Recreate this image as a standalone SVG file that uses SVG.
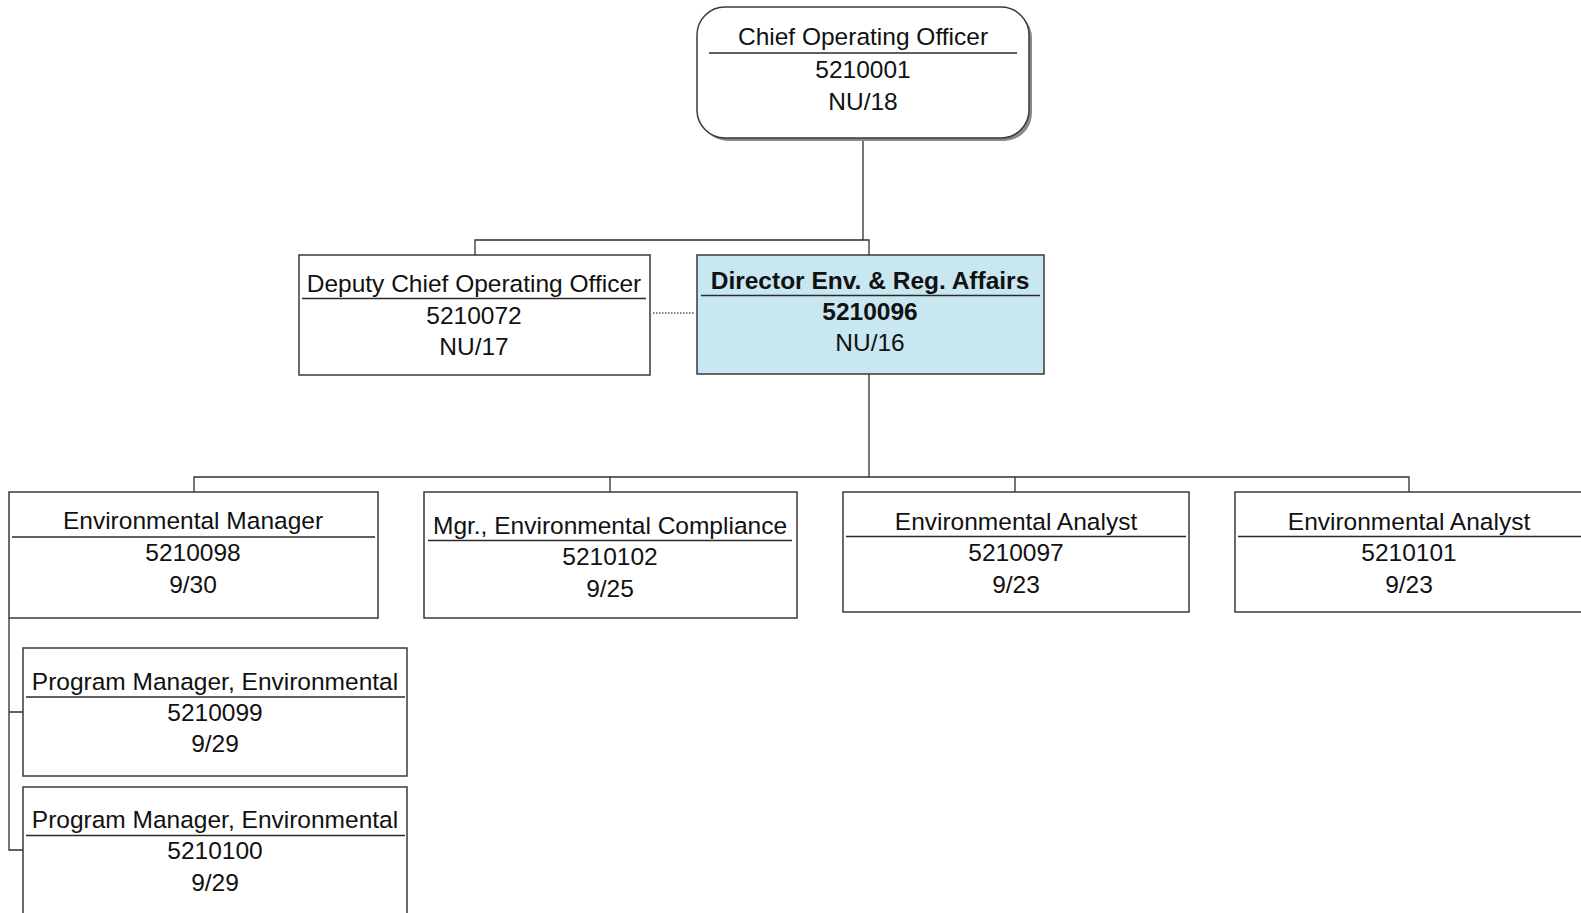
<svg xmlns="http://www.w3.org/2000/svg" width="1581" height="913" viewBox="0 0 1581 913">
  <style>
    .box { fill: #ffffff; stroke: #3a3a3a; stroke-width: 1.5; }
    .hl { fill: #c9e7f0; stroke: #3a3a3a; stroke-width: 1.5; }
    .rule { stroke: #2a2a2a; stroke-width: 1.3; }
    .wire { fill: none; stroke: #2f2f2f; stroke-width: 1.3; }
    .dot { fill: none; stroke: #555555; stroke-width: 1.3; stroke-dasharray: 1.5 1.5; }
    text { font-family: "Liberation Sans", Arial, sans-serif; font-size: 24.5px; fill: #111111; text-anchor: middle; }
    .b { font-weight: bold; }
  </style>

  <g id="connectors">
    <path class="wire" d="M863 139 V240 M475 255 V240 H869 V255"/>
    <path class="dot" d="M653 313 H694"/>
    <path class="wire" d="M869 374 V477 M194 492 V477 H1409 V492 M610 477 V492 M1015 477 V492"/>
    <path class="wire" d="M9 618 V850 H23 M9 712 H23"/>
  </g>

  <g id="coo">
    <rect x="700" y="10" width="332" height="131" rx="28" ry="28" fill="#8a8a8a"/>
    <rect class="box" x="697" y="7" width="332" height="131" rx="28" ry="28"/>
    <text x="863" y="45">Chief Operating Officer</text>
    <line class="rule" x1="709" y1="53" x2="1017" y2="53"/>
    <text x="863" y="78">5210001</text>
    <text x="863" y="110">NU/18</text>
  </g>

  <g id="deputy-coo">
    <rect class="box" x="299" y="255" width="351" height="120"/>
    <text x="474" y="292">Deputy Chief Operating Officer</text>
    <line class="rule" x1="302" y1="298.5" x2="646" y2="298.5"/>
    <text x="474" y="324">5210072</text>
    <text x="474" y="355">NU/17</text>
  </g>

  <g id="director">
    <rect class="hl" x="697" y="255" width="347" height="119"/>
    <text class="b" x="870" y="289">Director Env. &amp; Reg. Affairs</text>
    <line class="rule" x1="701" y1="295.5" x2="1040" y2="295.5"/>
    <text class="b" x="870" y="320">5210096</text>
    <text x="870" y="351">NU/16</text>
  </g>

  <g id="env-manager">
    <rect class="box" x="9" y="492" width="369" height="126"/>
    <text x="193" y="529">Environmental Manager</text>
    <line class="rule" x1="12" y1="537" x2="375" y2="537"/>
    <text x="193" y="561">5210098</text>
    <text x="193" y="593">9/30</text>
  </g>

  <g id="mgr-compliance">
    <rect class="box" x="424" y="492" width="373" height="126"/>
    <text x="610" y="534">Mgr., Environmental Compliance</text>
    <line class="rule" x1="428" y1="540.5" x2="792" y2="540.5"/>
    <text x="610" y="565">5210102</text>
    <text x="610" y="597">9/25</text>
  </g>

  <g id="analyst-97">
    <rect class="box" x="843" y="492" width="346" height="120"/>
    <text x="1016" y="530">Environmental Analyst</text>
    <line class="rule" x1="846" y1="536.5" x2="1186" y2="536.5"/>
    <text x="1016" y="561">5210097</text>
    <text x="1016" y="593">9/23</text>
  </g>

  <g id="analyst-101">
    <rect class="box" x="1235" y="492" width="348" height="120"/>
    <text x="1409" y="530">Environmental Analyst</text>
    <line class="rule" x1="1238" y1="536.5" x2="1581" y2="536.5"/>
    <text x="1409" y="561">5210101</text>
    <text x="1409" y="593">9/23</text>
  </g>

  <g id="program-mgr-99">
    <rect class="box" x="23" y="648" width="384" height="128"/>
    <text x="215" y="690">Program Manager, Environmental</text>
    <line class="rule" x1="26" y1="697" x2="405" y2="697"/>
    <text x="215" y="721">5210099</text>
    <text x="215" y="752">9/29</text>
  </g>

  <g id="program-mgr-100">
    <rect class="box" x="23" y="787" width="384" height="140"/>
    <text x="215" y="828">Program Manager, Environmental</text>
    <line class="rule" x1="26" y1="835.5" x2="405" y2="835.5"/>
    <text x="215" y="859">5210100</text>
    <text x="215" y="891">9/29</text>
  </g>
</svg>
